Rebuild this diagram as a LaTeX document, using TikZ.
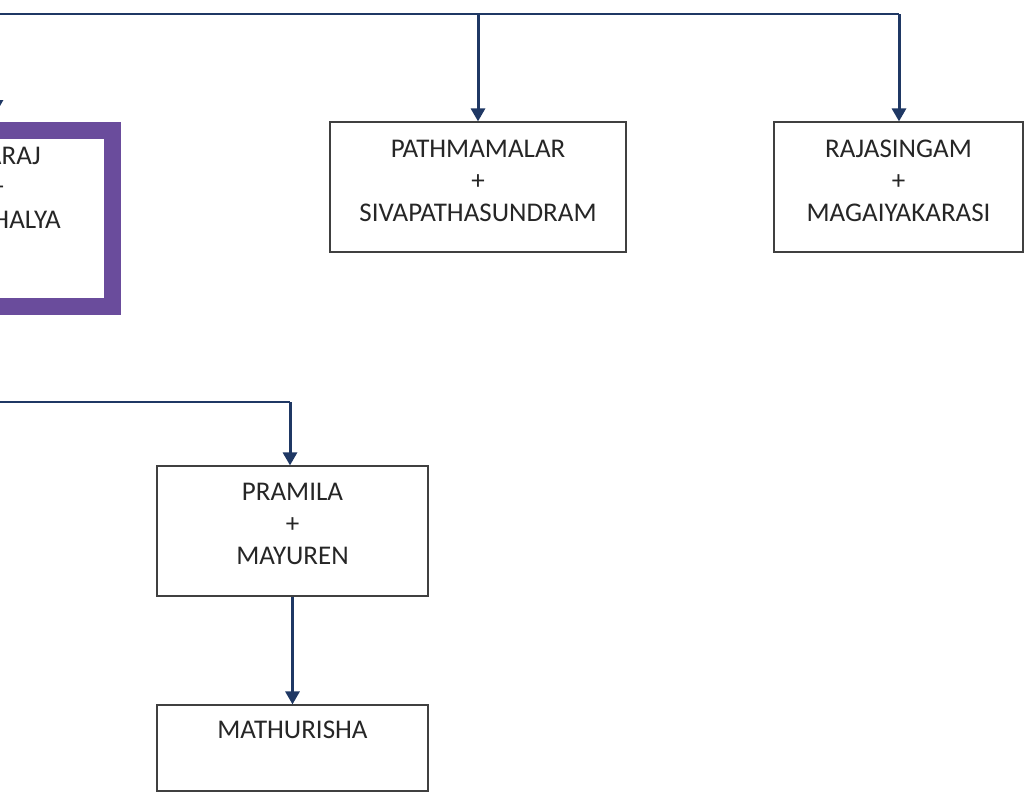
\documentclass[tikz,border=0pt]{standalone}
\usepackage{fontspec}
\setmainfont{Carlito}
\usetikzlibrary{arrows.meta}
\definecolor{famnavy}{RGB}{31,56,100}
\definecolor{boxgray}{RGB}{64,64,64}
\definecolor{famviolet}{RGB}{106,76,156}
\definecolor{inkgray}{RGB}{38,38,38}
\begin{document}
\begin{tikzpicture}[x=1pt,y=-1pt,>={Triangle[width=14pt,length=13pt]},line join=round,
		famline/.style={famnavy,line width=1.3pt},
		famarrow/.style={famnavy,line width=3pt,->},
		fambox/.style={draw=boxgray,line width=1.2pt,inner sep=0pt,line join=miter},
		famtext/.style={inkgray,inner sep=0pt,align=center,font=\fontsize{27}{32}\selectfont}]
	\useasboundingbox (0,0) rectangle (1024,795);
	\clip (0,0) rectangle (1024,795);
	\node[draw=famviolet,line width=17pt,line join=miter,inner sep=0pt,minimum width=262.5pt,minimum height=176.5pt] (chosen) at (-18.75,218.25) {};
	\node[famtext,anchor=east] (chosenA) at (41,156) {ARAJ};
	\node[famtext] (chosenP) at (-3,188) {+};
	\node[famtext,anchor=east] (chosenB) at (61,220) {HALYA};
	\node[fambox,minimum width=296pt,minimum height=130pt] (pathma) at (478,187) {};
	\node[famtext] (pathmaT) at (478,181) {PATHMAMALAR\\+\\SIVAPATHASUNDRAM};
	\node[fambox,minimum width=249pt,minimum height=130pt] (rajas) at (898.5,187) {};
	\node[famtext] (rajasT) at (898.5,181) {RAJASINGAM\\+\\MAGAIYAKARASI};
	\node[fambox,minimum width=271pt,minimum height=130pt] (pramila) at (292.5,531) {};
	\node[famtext] (pramilaT) at (292.5,524) {PRAMILA\\+\\MAYUREN};
	\node[fambox,minimum width=271pt,minimum height=86pt] (mathu) at (292.5,748) {};
	\node[famtext] (mathuT) at (292.5,730) {MATHURISHA};
	\coordinate (topL) at (-10,14);
	\coordinate (topR) at (899,14);
	\coordinate (leftDrop) at (-4,14);
	\coordinate (lowL) at (-10,402);
	\coordinate (lowR) at (290,402);
	\draw[famline] (topL) -- (topR);
	\draw[famarrow] (pathma.north |- topL) -- (pathma.north);
	\draw[famarrow] (topR) -- (topR |- rajas.north);
	\draw[famarrow,shorten >=8.5pt] (leftDrop) -- (leftDrop |- chosen.north);
	\draw[famline] (lowL) -- (lowR);
	\draw[famarrow] (lowR) -- (lowR |- pramila.north);
	\draw[famarrow] (pramila.south) -- (mathu.north);
\end{tikzpicture}
\end{document}
